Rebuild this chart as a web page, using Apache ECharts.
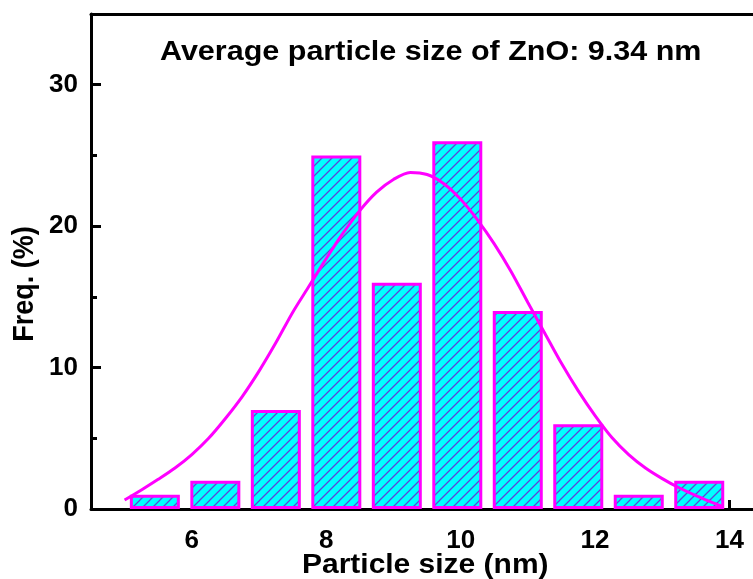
<!DOCTYPE html>
<html>
<head>
<meta charset="utf-8">
<script src="https://cdn.jsdelivr.net/npm/echarts@6/dist/echarts.min.js"></script>
<style>
  html, body { margin: 0; padding: 0; background: #fff; }
  #root { width: 753px; height: 579px; }
</style>
</head>
<body>
<div id="root"></div>
<script>
// histogram bins (nm) and frequencies (%)
var binCenters = [5.45, 6.35, 7.25, 8.15, 9.05, 9.95, 10.85, 11.75, 12.65, 13.55];
var freq = [1, 2, 7, 25, 16, 26, 14, 6, 1, 2];

// fitted curve, every 0.25 nm
var fitX = [5.0, 5.25, 5.5, 5.75, 6.0, 6.25, 6.5, 6.75, 7.0, 7.25, 7.5, 7.75, 8.0, 8.25, 8.5, 8.75, 9.0, 9.25,
  9.5, 9.75, 10.0, 10.25, 10.5, 10.75, 11.0, 11.25, 11.5, 11.75, 12.0, 12.25, 12.5, 12.75, 13.0, 13.25, 13.5, 13.75, 13.9];
var fitY = [0.64, 1.35, 2.1, 2.9, 3.85, 5.0, 6.4, 7.95, 9.75, 11.75, 13.9, 15.8, 17.7, 19.5, 21.1, 22.4, 23.3, 23.8,
  23.65, 23.0, 21.9, 20.45, 18.75, 16.8, 14.6, 12.45, 10.3, 8.35, 6.6, 5.05, 3.85, 2.9, 2.15, 1.5, 0.95, 0.45, 0.16];

var xTicks = [6, 8, 10, 12, 14];
var yTicks = [0, 10, 20, 30];

var titleText = 'Average particle size of ZnO: 9.34 nm';

// hatch fill: cyan with diagonal lines
var hatch = function () {
  var c = document.createElement('canvas');
  c.width = 10; c.height = 10;
  var g = c.getContext('2d');
  g.fillStyle = '#00ffff';
  g.fillRect(0, 0, 10, 10);
  g.strokeStyle = '#5a48d6';
  g.lineWidth = 1.3;
  g.beginPath();
  g.moveTo(-1, 11); g.lineTo(11, -1);
  g.moveTo(-1, 1); g.lineTo(1, -1);
  g.moveTo(9, 11); g.lineTo(11, 9);
  g.stroke();
  return c;
};

var dom = document.getElementById('root');
var myChart = echarts.init(dom, null, { renderer: 'canvas' });

var font = 'Liberation Sans, Arial, sans-serif';
var labelStyle = { color: '#000', fontFamily: font, fontWeight: 'bold', fontSize: 26 };

var option = {
  animation: false,
  grid: { left: 91, top: 14, right: 0, bottom: 70, show: false },
  xAxis: [
    {
      type: 'value',
      min: 4.5,
      max: 14.35,
      axisLine: { show: true, onZero: false, lineStyle: { color: '#000', width: 3 } },
      axisTick: { show: true, inside: true, length: 9, customValues: xTicks, lineStyle: { color: '#000', width: 3 } },
      axisLabel: Object.assign({ customValues: xTicks, margin: 19 }, labelStyle),
      splitLine: { show: false }
    },
    {
      // top frame line only
      type: 'value',
      position: 'top',
      min: 4.5,
      max: 14.35,
      axisLine: { show: true, onZero: false, lineStyle: { color: '#000', width: 3 } },
      axisTick: { show: false },
      axisLabel: { show: false },
      splitLine: { show: false }
    }
  ],
  yAxis: {
    type: 'value',
    min: 0,
    max: 35,
    interval: 10,
    axisLine: { show: true, lineStyle: { color: '#000', width: 3 } },
    axisTick: { show: true, inside: true, length: 10, customValues: yTicks, lineStyle: { color: '#000', width: 3 } },
    minorTick: { show: true, splitNumber: 2, length: 6, lineStyle: { color: '#000', width: 3 } },
    axisLabel: Object.assign({ customValues: yTicks, margin: 13 }, labelStyle),
    splitLine: { show: false },
    minorSplitLine: { show: false }
  },
  graphic: [
    {
      type: 'text', x: 160, y: 39, scaleX: 1.13,
      style: { text: titleText, fill: '#000', font: 'bold 27px ' + font }
    },
    {
      type: 'text', x: 302, y: 552, scaleX: 1.11,
      style: { text: 'Particle size (nm)', fill: '#000', font: 'bold 27px ' + font }
    },
    {
      type: 'text', x: 25, y: 284, rotation: Math.PI / 2, scaleY: 1.12,
      style: { text: 'Freq. (%)', fill: '#000', font: 'bold 27px ' + font, align: 'center', verticalAlign: 'middle' }
    }
  ],
  series: [
    {
      type: 'bar',
      barWidth: 50,
      data: binCenters.map(function (c, i) { return [c, freq[i]]; }),
      itemStyle: {
        color: { image: hatch(), repeat: 'repeat' },
        borderColor: '#ff00ff',
        borderWidth: 3
      }
    },
    {
      type: 'line',
      smooth: 0.3,
      showSymbol: false,
      data: fitX.map(function (x, i) { return [x, fitY[i]]; }),
      lineStyle: { color: '#ff00ff', width: 3 },
      z: 5
    }
  ]
};

myChart.setOption(option);
</script>
</body>
</html>
